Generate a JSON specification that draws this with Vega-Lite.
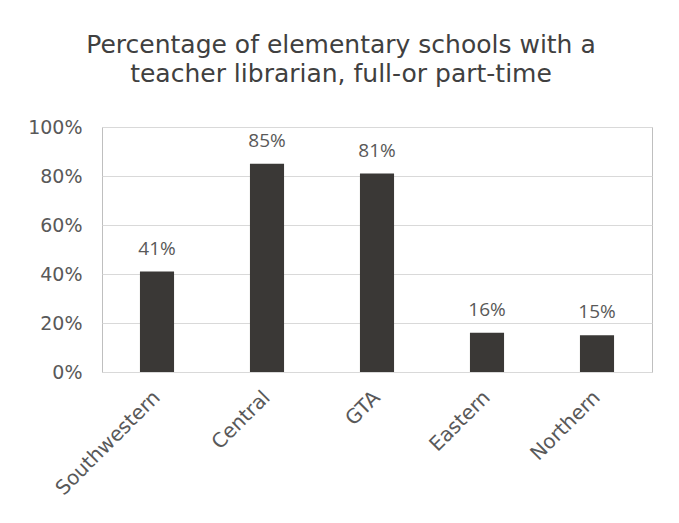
{
  "$schema": "https://vega.github.io/schema/vega-lite/v6.json",
  "width": 550,
  "height": 245,
  "autosize": {"type": "none"},
  "padding": {"left": 102, "top": 127, "right": 27, "bottom": 151},
  "background": "white",
  "title": {
    "text": ["Percentage of elementary schools with a", "teacher  librarian, full-or part-time"],
    "font": "DejaVu Sans",
    "fontSize": 25,
    "fontWeight": "normal",
    "color": "#404040",
    "anchor": "middle",
    "baseline": "bottom",
    "dx": -36,
    "offset": 6,
    "lineHeight": 29
  },
  "data": {
    "values": [
      {"region": "Southwestern", "pct": 0.41},
      {"region": "Central", "pct": 0.85},
      {"region": "GTA", "pct": 0.81},
      {"region": "Eastern", "pct": 0.16},
      {"region": "Northern", "pct": 0.15}
    ]
  },
  "encoding": {
    "x": {
      "field": "region",
      "type": "nominal",
      "sort": null,
      "scale": {"paddingInner": 0.69, "paddingOuter": 0.345},
      "axis": {
        "title": null,
        "labelAngle": -45,
        "labelAlign": "right",
        "labelBaseline": "middle",
        "labelFont": "DejaVu Sans",
        "labelFontSize": 20,
        "labelColor": "#595959",
        "ticks": false,
        "domain": false,
        "labelPadding": 22
      }
    },
    "y": {
      "field": "pct",
      "type": "quantitative",
      "scale": {"domain": [0, 1]},
      "axis": {
        "title": null,
        "format": ".0%",
        "values": [0, 0.2, 0.4, 0.6, 0.8, 1],
        "labelFont": "DejaVu Sans",
        "labelFontSize": 19,
        "labelColor": "#595959",
        "ticks": false,
        "domain": false,
        "labelPadding": 20,
        "gridColor": "#d9d9d9",
        "gridWidth": 1
      }
    }
  },
  "layer": [
    {"mark": {"type": "bar", "color": "#3a3836"}},
    {
      "mark": {
        "type": "text",
        "baseline": "alphabetic",
        "dy": -17,
        "font": "Open Sans",
        "fontSize": 19,
        "color": "#595959"
      },
      "encoding": {"text": {"field": "pct", "type": "quantitative", "format": ".0%"}}
    }
  ],
  "config": {
    "view": {"stroke": "#bfbfbf", "strokeWidth": 1}
  }
}
